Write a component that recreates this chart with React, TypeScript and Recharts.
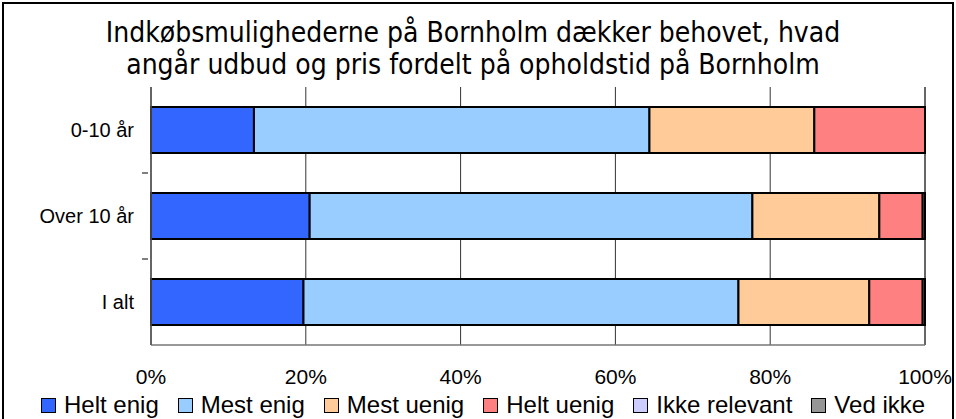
import { BarChart, Bar, XAxis, YAxis, CartesianGrid } from 'recharts';

const groups = ['0-10 år', 'Over 10 år', 'I alt'];
const heltEnig = [13.3, 20.5, 19.7];
const mestEnig = [51.1, 57.2, 56.2];
const mestUenig = [21.3, 16.4, 16.9];
const heltUenig = [14.3, 5.6, 6.9];
const ikkeRelevant = [0, 0, 0];
const vedIkke = [0, 0.3, 0.3];
const xTicks = [0, 20, 40, 60, 80, 100];

const series = [
  { key: 'heltEnig', label: 'Helt enig', color: '#3366ff', values: heltEnig },
  { key: 'mestEnig', label: 'Mest enig', color: '#99ccff', values: mestEnig },
  { key: 'mestUenig', label: 'Mest uenig', color: '#ffcc99', values: mestUenig },
  { key: 'heltUenig', label: 'Helt uenig', color: '#ff8080', values: heltUenig },
  { key: 'ikkeRelevant', label: 'Ikke relevant', color: '#ccccff', values: ikkeRelevant },
  { key: 'vedIkke', label: 'Ved ikke', color: '#969696', values: vedIkke },
];

const data = groups.map((name, i) => {
  const row: Record<string, string | number> = { name };
  series.forEach((s) => {
    row[s.key] = s.values[i];
  });
  return row;
});

const FONT = '"Liberation Sans", Arial, sans-serif';

// category label plus Excel-style tick mark between categories
function YTick(props: any) {
  const { x, y, payload, index } = props;
  const half = payload?.offset ?? 43;
  return (
    <g>
      <text
        x={x - 9}
        y={y}
        textAnchor="end"
        dominantBaseline="central"
        fontFamily={FONT}
        fontSize={20}
        fill="#000"
      >
        {payload.value}
      </text>
      {index > 0 && (
        <line x1={x - 1} x2={x + 5} y1={y - half} y2={y - half} stroke="#555" strokeWidth={1.5} />
      )}
    </g>
  );
}

function Legend() {
  return (
    <div
      style={{
        position: 'absolute',
        left: 41,
        top: 391,
        display: 'flex',
        fontFamily: FONT,
        fontSize: 24,
        lineHeight: '28px',
        color: '#000',
        whiteSpace: 'nowrap',
      }}
    >
      {series.map((s) => (
        <div key={s.key} style={{ display: 'flex', alignItems: 'center', marginRight: 19 }}>
          <span
            style={{
              display: 'inline-block',
              boxSizing: 'border-box',
              width: 15,
              height: 15,
              background: s.color,
              border: '1.5px solid #000',
              marginRight: 8,
            }}
          />
          {s.label}
        </div>
      ))}
    </div>
  );
}

export default function App() {
  return (
    <div style={{ position: 'absolute', left: 0, top: 0, width: 956, height: 419, overflow: 'hidden', background: '#fff' }}>
      <div
        style={{
          position: 'absolute',
          left: 2,
          top: 2,
          width: 948,
          height: 440,
          border: '2px solid #000',
        }}
      />
      <div
        style={{
          position: 'absolute',
          left: 0,
          top: 17,
          width: 946,
          textAlign: 'center',
          fontFamily: '"DejaVu Sans Condensed", "DejaVu Sans", sans-serif',
          fontSize: 28,
          lineHeight: '32px',
          color: '#000',
        }}
      >
        Indkøbsmulighederne på Bornholm dækker behovet, hvad
        <br />
        angår udbud og pris fordelt på opholdstid på Bornholm
      </div>
      <div style={{ position: 'absolute', left: 0, top: 0 }}>
        <BarChart
          width={956}
          height={419}
          data={data}
          layout="vertical"
          margin={{ top: 87, right: 31, bottom: 44, left: 91 }}
          barSize={46}
        >
          <CartesianGrid horizontal={false} vertical stroke="#333" strokeWidth={1} />
          <XAxis
            type="number"
            domain={[0, 100]}
            ticks={xTicks}
            tickFormatter={(v) => `${v}%`}
            tickLine={false}
            axisLine={{ stroke: '#777', strokeWidth: 1.5 }}
            tickMargin={18}
            height={30}
            interval={0}
            tick={{ fontFamily: FONT, fontSize: 21, fill: '#000' }}
          />
          <YAxis
            type="category"
            dataKey="name"
            width={60}
            tickLine={false}
            axisLine={{ stroke: '#555', strokeWidth: 1.5 }}
            tick={<YTick />}
            interval={0}
          />
          {series.map((s) => (
            <Bar
              key={s.key}
              dataKey={s.key}
              stackId="a"
              fill={s.color}
              stroke="#000"
              strokeWidth={2}
              isAnimationActive={false}
            />
          ))}
        </BarChart>
      </div>
      <Legend />
    </div>
  );
}
